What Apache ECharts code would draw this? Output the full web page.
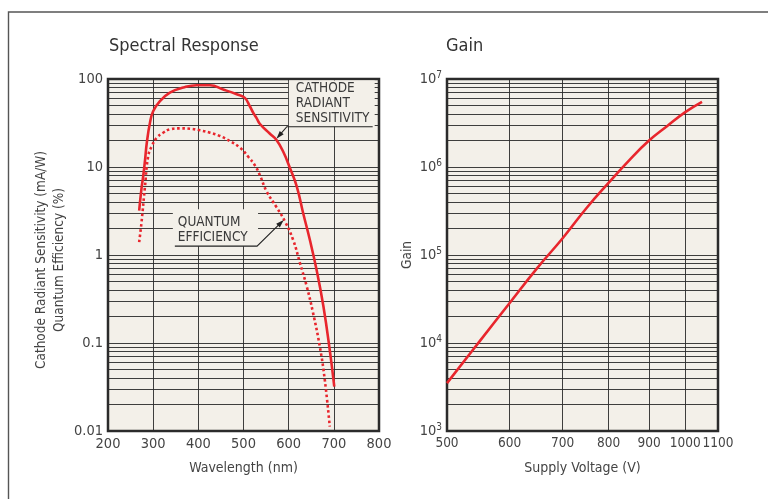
<!DOCTYPE html>
<html>
<head>
<meta charset="utf-8">
<script src="https://cdn.jsdelivr.net/npm/echarts@6/dist/echarts.min.js"></script>
<style>
html,body{margin:0;padding:0;background:#fff;}
#chart{width:768px;height:499px;}
</style>
</head>
<body>
<div id="chart"></div>
<script>
// ---- Spectral response data (wavelength nm) ----
const cathodeWl  = [269, 274, 278, 282, 286, 293, 300, 315, 337, 367, 396, 426, 455, 485, 503, 514, 522, 529, 536, 558, 573, 588, 603, 618, 632, 647, 662, 677, 691, 701];
const cathodeVal = [3.2, 5.6, 7.9, 12, 19, 32, 43, 56, 70, 80, 85, 85, 76, 67, 61, 49, 41, 36, 31, 24, 20.3, 14.9, 9.7, 6.0, 3.0, 1.48, 0.67, 0.26, 0.083, 0.032];

const qeWl  = [269, 274, 282, 289, 297, 308, 322, 337, 359, 382, 404, 426, 448, 470, 492, 511, 526, 537, 551, 573, 592, 610, 625, 640, 654, 669, 680, 691];
const qeVal = [1.4, 2.3, 6.1, 13.3, 17.3, 21.5, 24.5, 26.8, 27.5, 27.2, 26.1, 24.5, 22.5, 19.7, 16.6, 13.0, 10.3, 7.9, 5.3, 3.5, 2.4, 1.48, 0.81, 0.44, 0.22, 0.091, 0.038, 0.0112];

// ---- Gain data (supply voltage V) ----
const voltage = [500, 550, 600, 650, 700, 750, 800, 850, 900, 950, 1000, 1050];
const gain    = [3.5e3, 1.05e4, 2.85e4, 7.1e4, 1.55e5, 3.4e5, 6.6e5, 1.2e6, 2.0e6, 2.95e6, 4.2e6, 5.5e6];

// ---- Axis ticks ----
const wlTicks   = [200, 300, 400, 500, 600, 700, 800];
const voltTicks = [500, 600, 700, 800, 900, 1000, 1100];
const spectralDecades = [0.01, 0.1, 1, 10];   // each decade gets 1..9 gridlines
const gainDecades     = [1e3, 1e4, 1e5, 1e6];

// annotation anchors in data coordinates
const cathodeNote = { text: 'CATHODE\nRADIANT\nSENSITIVITY', tip: [573, 21], elbow: [596, 28.7], end: [786, 28.7] };
const quantumNote = { text: 'QUANTUM\nEFFICIENCY', tip: [589, 2.5], elbow: [530, 1.26], end: [348, 1.26] };

const FONT = "'Liberation Sans Narrow','DejaVu Sans Condensed','Open Sans',sans-serif";
const RED = '#e8262d';
const GRIDC = '#2a2a2a';
const BG = '#f3f0e9';
const TXT = '#444';

function decadeLines(decades) {
  const out = [];
  decades.forEach(d => { for (let k = 1; k <= 9; k++) { if (!(k === 1 && d === decades[0])) out.push(+(d * k).toPrecision(6)); } });
  return out;
}
const zip = (a, b) => a.map((v, i) => [v, b[i]]);

const markLineBase = {
  silent: true, symbol: ['none', 'none'], animation: false,
  label: { show: false },
  lineStyle: { type: 'solid', color: GRIDC, width: 1, opacity: 0.9 },
  emphasis: { disabled: true }
};

const chart = echarts.init(document.getElementById('chart'), null, { renderer: 'canvas' });

const option = {
  animation: false,
  backgroundColor: '#fff',
  textStyle: { fontFamily: FONT },
  title: [
    { text: 'Spectral Response', left: 109, top: 37, padding: 0, textStyle: { fontFamily: FONT, fontSize: 18, fontWeight: 'normal', color: '#333' } },
    { text: 'Gain', left: 446, top: 37, padding: 0, textStyle: { fontFamily: FONT, fontSize: 18, fontWeight: 'normal', color: '#333' } }
  ],
  grid: [
    { left: 108, top: 79, width: 271, height: 352, show: true, backgroundColor: BG, borderColor: '#2b2b2b', borderWidth: 2.5, z: 0 },
    { left: 447, top: 79, width: 271, height: 352, show: true, backgroundColor: BG, borderColor: '#2b2b2b', borderWidth: 2.5, z: 0 }
  ],
  xAxis: [
    {
      gridIndex: 0, type: 'value', min: 200, max: 800, interval: 100,
      axisLine: { show: false }, axisTick: { show: false },
      splitLine: { show: false },
      axisLabel: { fontFamily: FONT, fontSize: 14.5, color: TXT, margin: 6 },
      name: 'Wavelength (nm)', nameLocation: 'middle', nameGap: 30,
      nameTextStyle: { fontFamily: FONT, fontSize: 14, color: TXT }
    },
    {
      gridIndex: 1, type: 'log', logBase: 10, min: 500, max: 1100,
      axisLine: { show: false }, axisTick: { show: false },
      splitLine: { show: false }, axisLabel: { show: false },
      name: 'Supply Voltage (V)', nameLocation: 'middle', nameGap: 30,
      nameTextStyle: { fontFamily: FONT, fontSize: 14, color: TXT }
    }
  ],
  yAxis: [
    {
      gridIndex: 0, type: 'log', logBase: 10, min: 0.01, max: 100,
      axisLine: { show: false }, axisTick: { show: false }, splitLine: { show: false },
      axisLabel: { fontFamily: FONT, fontSize: 14.5, color: TXT, margin: 5 },
      name: 'Cathode Radiant Sensitivity (mA/W)\nQuantum Efficiency (%)',
      nameLocation: 'middle', nameGap: 40, nameRotate: 90,
      nameTextStyle: { fontFamily: FONT, fontSize: 13.5, color: TXT, lineHeight: 18, align: 'center', padding: [0, 10, 0, 0] }
    },
    {
      gridIndex: 1, type: 'log', logBase: 10, min: 1e3, max: 1e7,
      axisLine: { show: false }, axisTick: { show: false }, splitLine: { show: false },
      axisLabel: {
        margin: 5,
        formatter: v => '{b|10}{s|' + Math.round(Math.log10(v)) + '}',
        rich: {
          b: { fontFamily: FONT, fontSize: 14.5, color: TXT },
          s: { fontFamily: FONT, fontSize: 10, color: TXT, padding: [0, 0, 8, 0] }
        }
      },
      name: 'Gain', nameLocation: 'middle', nameGap: 33, nameRotate: 90,
      nameTextStyle: { fontFamily: FONT, fontSize: 13.5, color: TXT }
    }
  ],
  series: [
    {
      name: 'grid-left', type: 'line', xAxisIndex: 0, yAxisIndex: 0, data: [], z: 1,
      markLine: Object.assign({}, markLineBase, {
        data: decadeLines(spectralDecades).map(v => ({ yAxis: v }))
          .concat(wlTicks.slice(1, -1).map(v => ({ xAxis: v })))
      })
    },
    {
      name: 'grid-right', type: 'line', xAxisIndex: 1, yAxisIndex: 1, data: [], z: 1,
      markLine: Object.assign({}, markLineBase, {
        data: decadeLines(gainDecades).map(v => ({ yAxis: v }))
          .concat(voltTicks.slice(1, -1).map(v => ({ xAxis: v })))
      })
    },
    {
      name: 'Quantum Efficiency', type: 'line', xAxisIndex: 0, yAxisIndex: 0, z: 5,
      data: zip(qeWl, qeVal), showSymbol: false, smooth: 0.45,
      lineStyle: { color: RED, width: 2.6, type: [2.6, 2.6], cap: 'butt' }
    },
    {
      name: 'Cathode Radiant Sensitivity', type: 'line', xAxisIndex: 0, yAxisIndex: 0, z: 6,
      data: zip(cathodeWl, cathodeVal), showSymbol: false, smooth: 0.45,
      lineStyle: { color: RED, width: 2.6 }
    },
    {
      name: 'Gain', type: 'line', xAxisIndex: 1, yAxisIndex: 1, z: 6,
      data: zip(voltage, gain), showSymbol: false, smooth: 0.45,
      lineStyle: { color: RED, width: 2.6 }
    },
    {
      name: 'volt-ticks', type: 'scatter', xAxisIndex: 1, yAxisIndex: 1, clip: false, silent: true,
      symbolSize: 0, data: voltTicks.map(v => [v, 1e3]),
      label: { show: true, position: 'bottom', distance: 5, formatter: p => String(p.value[0]),
               fontFamily: FONT, fontSize: 13.5, color: TXT, opacity: 1, textBorderWidth: 0 },
      emphasis: { disabled: true }
    }
  ],
  graphic: [
    { type: 'rect', shape: { x: 8.5, y: 12, width: 1000, height: 1000 }, style: { fill: 'none', stroke: '#555', lineWidth: 1.4 }, silent: true }
  ]
};

chart.setOption(option);

function noteGraphics(note, side) {
  const P = p => chart.convertToPixel({ gridIndex: 0 }, p);
  const tip = P(note.tip), elbow = P(note.elbow), end = P(note.end);
  const lines = note.text.split('\n').length;
  const lh = 15;
  const textLeft = side === 'right' ? elbow[0] + 9 : end[0] + 3;
  const textBottom = elbow[1] - 1;
  const boxL = side === 'right' ? elbow[0] + 2 : end[0] - 2;
  const boxR = side === 'right' ? end[0] + 2 : elbow[0] + 1;
  const gridTop = chart.convertToPixel({ gridIndex: 0 }, [200, 100])[1];
  const boxT = Math.max(gridTop + 1.5, textBottom - lines * lh - 6);
  const dx = tip[0] - elbow[0], dy = tip[1] - elbow[1];
  const len = Math.sqrt(dx * dx + dy * dy), ux = dx / len, uy = dy / len;
  const aL = 8, aW = 2.6;
  const bx = tip[0] - ux * aL, by = tip[1] - uy * aL;
  return [
    { type: 'rect', z: 10, silent: true, shape: { x: boxL, y: boxT, width: boxR - boxL, height: elbow[1] - boxT }, style: { fill: BG } },
    { type: 'text', z: 11, silent: true, x: textLeft, y: textBottom,
      style: { text: note.text, font: '13.5px ' + FONT, fill: '#3a3a3a', lineHeight: lh, align: 'left', verticalAlign: 'bottom' } },
    { type: 'polyline', z: 11, silent: true, shape: { points: [[end[0], elbow[1]], elbow, [bx + ux * 1, by + uy * 1]] }, style: { stroke: '#222', lineWidth: 1.1, fill: 'none' } },
    { type: 'polygon', z: 11, silent: true, shape: { points: [tip, [bx - uy * aW, by + ux * aW], [bx + uy * aW, by - ux * aW]] }, style: { fill: '#222' } }
  ];
}

chart.setOption({
  graphic: option.graphic.concat(noteGraphics(cathodeNote, 'right'), noteGraphics(quantumNote, 'left'))
});
</script>
</body>
</html>
